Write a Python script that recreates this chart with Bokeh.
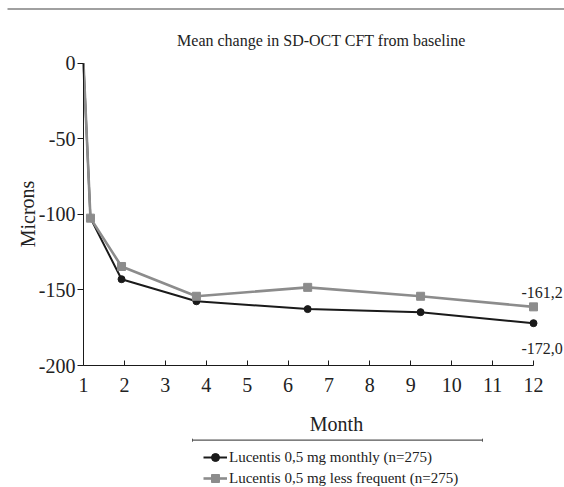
from bokeh.plotting import figure
from bokeh.models import (LinearAxis, FixedTicker, Range1d, Label, Legend,
                          LegendItem, ColumnDataSource, CDSView, IndexFilter)
from bokeh.embed import file_html
from bokeh.resources import INLINE
from bokeh.core.properties import value

# ---- data ----
months = [1, 1.17, 1.93, 3.76, 6.48, 9.24, 12]
monthly = [0, -102.5, -142.9, -157.5, -162.7, -164.7, -172.0]
less_frequent = [0, -102.5, -134.5, -154.2, -148.3, -154.2, -161.2]
x_ticks = [1, 2, 3, 4, 5, 6, 7, 8, 9, 10, 11, 12]
y_ticks = [0, -50, -100, -150, -200]
y_tick_labels = ["0", "-50", "-100", "-150", "-200"]
series_names = ["Lucentis 0,5 mg monthly (n=275)",
                "Lucentis 0,5 mg less frequent (n=275)"]
title_text = "Mean change in SD-OCT CFT from baseline"
x_title = "Month"
y_title = "Microns"

FONT = "Liberation Serif"
TXT = "#222222"
BLACK = "#1a1a1a"
GRAY = "#8c8c8c"

# ---- layout geometry (pixels inside the canvas) ----
W, H = 564, 487
PX_X1, PX_X12 = 83.0, 533.0      # pixel of month 1 and month 12
PX_Y0, PX_Y200 = 62.7, 365.0     # pixel of 0 and -200
sx = (PX_X12 - PX_X1) / 11.0
sy = (PX_Y200 - PX_Y0) / 200.0
X_START = 1 - PX_X1 / sx
X_END = 12 + (W - PX_X12) / sx
Y_END = PX_Y0 / sy
Y_START = -(H - PX_Y0) / sy


def dx(px):
    return X_START + px / sx


def dy(py):
    return Y_END - py / sy


p = figure(width=W, height=H, output_backend="svg", toolbar_location=None,
           x_axis_type=None, y_axis_type=None,
           x_range=Range1d(X_START, X_END), y_range=Range1d(Y_START, Y_END),
           min_border=0, min_border_left=0, min_border_right=0,
           min_border_top=0, min_border_bottom=0)
p.title.visible = False
p.outline_line_color = None
p.background_fill_color = "white"
p.border_fill_color = "white"

# axes
xaxis = LinearAxis(fixed_location=-200, bounds=(1, 12),
                   ticker=FixedTicker(ticks=x_ticks))
xaxis.major_tick_in = 5
xaxis.major_tick_out = 0
xaxis.minor_tick_line_color = None
xaxis.axis_line_color = BLACK
xaxis.major_tick_line_color = BLACK
xaxis.major_label_text_font = FONT
xaxis.major_label_text_font_size = "20px"
xaxis.major_label_text_color = TXT
xaxis.major_label_standoff = 12
p.add_layout(xaxis, "below")

yaxis = LinearAxis(fixed_location=1, bounds=(-200, 0),
                   ticker=FixedTicker(ticks=y_ticks))
yaxis.major_label_overrides = dict(zip(y_ticks, y_tick_labels))
yaxis.major_tick_in = 0
yaxis.major_tick_out = 6
yaxis.minor_tick_line_color = None
yaxis.axis_line_color = BLACK
yaxis.major_tick_line_color = BLACK
yaxis.major_label_text_font = FONT
yaxis.major_label_text_font_size = "20px"
yaxis.major_label_text_color = TXT
yaxis.major_label_standoff = 2
p.add_layout(yaxis, "left")

# series (baseline point drawn without a marker)
src = ColumnDataSource(dict(x=months, m=monthly, lf=less_frequent))
marked = CDSView(filter=IndexFilter(list(range(1, len(months)))))
l1 = p.line("x", "m", source=src, line_color=BLACK, line_width=2)
s1 = p.scatter("x", "m", source=src, view=marked, marker="circle", size=7,
               fill_color=BLACK, line_color=BLACK)
l2 = p.line("x", "lf", source=src, line_color=GRAY, line_width=2.6)
s2 = p.scatter("x", "lf", source=src, view=marked, marker="square", size=8,
               fill_color=GRAY, line_color=GRAY)

# end value labels
end_src = ColumnDataSource(dict(
    x=[months[-1], months[-1]],
    y=[less_frequent[-1], monthly[-1]],
    t=[f"{less_frequent[-1]:.1f}".replace(".", ","),
       f"{monthly[-1]:.1f}".replace(".", ",")],
    yo=[-14, 25]))
p.text("x", "y", text="t", source=end_src, x_offset=-12, y_offset="yo",
       text_font=value(FONT), text_font_size="16px", text_color=TXT,
       text_baseline="alphabetic", text_align="left")

# titles
p.add_layout(Label(x=dx(321), y=dy(40), text=title_text, text_font=FONT,
                   text_font_size="16px", text_color=TXT,
                   text_align="center", text_baseline="middle"))
p.add_layout(Label(x=dx(336), y=dy(423), text=x_title, text_font=FONT,
                   text_font_size="20px", text_color=TXT,
                   text_align="center", text_baseline="alphabetic"))
p.add_layout(Label(x=dx(27), y=dy(213.5), text=y_title, text_font=FONT,
                   text_font_size="20px", text_color=TXT, angle=1.5708,
                   text_align="center", text_baseline="alphabetic"))

# decorative rules
p.segment(x0=[dx(7)], y0=[dy(8.5)], x1=[dx(564)], y1=[dy(8.5)],
          line_color="#808080", line_width=1.5)
p.segment(x0=[dx(192)], y0=[dy(439.7)], x1=[dx(482)], y1=[dy(439.7)],
          line_color="#555555", line_width=1.2)
p.segment(x0=[dx(192), dx(482)], y0=[dy(438.2)] * 2,
          x1=[dx(192), dx(482)], y1=[dy(441.2)] * 2,
          line_color="#555555", line_width=1)

# legend
legend = Legend(items=[LegendItem(label=series_names[0], renderers=[l1, s1]),
                       LegendItem(label=series_names[1], renderers=[l2, s2])],
                location=(203, -1), orientation="vertical",
                glyph_width=24, glyph_height=20, label_height=20,
                spacing=1, padding=0, margin=0, label_standoff=2,
                label_text_font=FONT, label_text_font_size="15px",
                label_text_color=TXT,
                border_line_color=None, background_fill_alpha=0)
p.add_layout(legend, "center")

open("out.html", "w").write(file_html(p, INLINE))
